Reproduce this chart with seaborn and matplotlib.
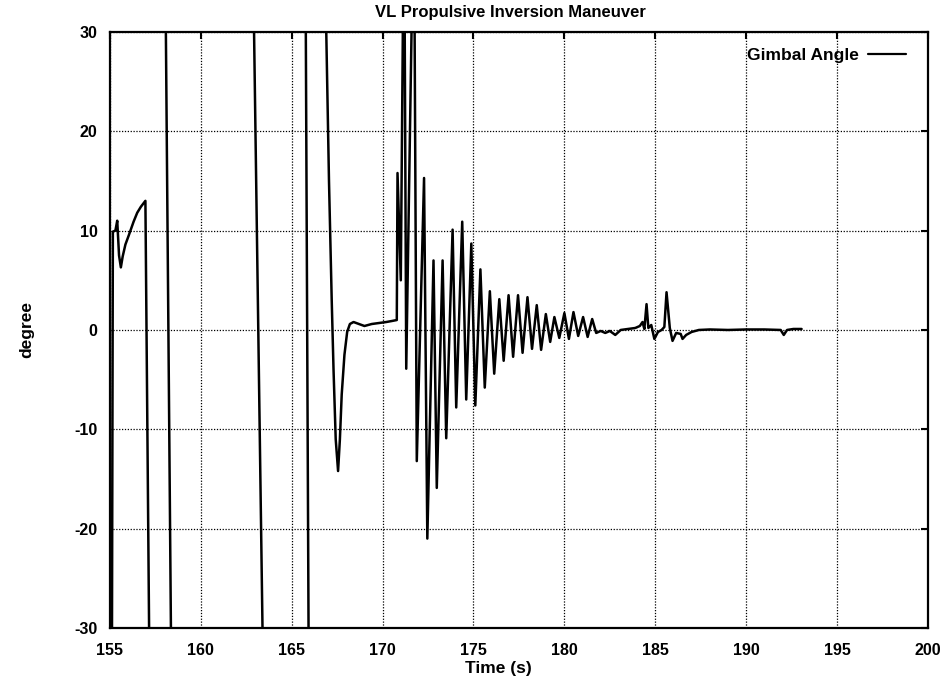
import pandas as pd
import seaborn as sns
import matplotlib.pyplot as plt
from matplotlib.lines import Line2D

# valeurs (temps en s, angle en degres)
t_start = [155.10, 155.16, 155.30, 155.40, 155.50, 155.60, 155.70, 155.85, 156.05, 156.30,
           156.50, 156.70, 156.95, 157.20]
deg_start = [-40, 9.9, 10.0, 11.0, 7.5, 6.3, 7.4, 8.6, 9.6, 10.9, 11.8, 12.4, 13.0, -40]

# traits hors echelle (passage +/- au dela de l'axe)
t_wrap1 = [158.03, 158.40]
deg_wrap1 = [40, -40]
t_wrap2 = [162.85, 163.47]
deg_wrap2 = [40, -40]
t_wrap3 = [165.75, 165.95]
deg_wrap3 = [40, -40]

t_settle = [166.80, 166.95, 167.05, 167.20, 167.30, 167.42, 167.55, 167.65, 167.75, 167.90,
            168.05, 168.20, 168.40, 168.70, 169.00, 169.40, 169.80, 170.20, 170.50, 170.78]
deg_settle = [40, 25, 15, 3, -4, -11, -14.2, -11, -6.5, -2.5,
              -0.2, 0.6, 0.8, 0.6, 0.4, 0.6, 0.7, 0.8, 0.9, 1.0]

t_osc = [170.82, 171.00, 171.18, 171.30, 171.72, 171.88, 172.28, 172.46, 172.80, 172.98,
         173.30, 173.50, 173.85, 174.05, 174.38, 174.60, 174.88, 175.10, 175.38, 175.62,
         175.90, 176.14, 176.42, 176.66, 176.93, 177.18, 177.45, 177.70, 177.97, 178.22,
         178.48, 178.72, 178.98, 179.22, 179.45, 179.72, 180.00, 180.25, 180.50, 180.76,
         181.03, 181.28, 181.53, 181.75]
deg_osc = [15.8, 5.0, 45, -3.9, 45, -13.2, 15.3, -21.0, 7.0, -15.9,
           7.0, -10.9, 10.1, -7.8, 10.9, -7.0, 8.7, -7.6, 6.1, -5.8,
           3.9, -4.4, 3.1, -3.1, 3.5, -2.7, 3.5, -2.3, 3.3, -1.9,
           2.5, -2.0, 1.6, -1.2, 1.3, -0.8, 1.7, -0.9, 1.8, -0.6,
           1.3, -0.7, 1.1, -0.3]

t_tail = [182.00, 182.25, 182.50, 182.80, 183.10, 183.50, 183.90, 184.15, 184.30, 184.40,
          184.52, 184.62, 184.78, 184.95, 185.15, 185.35, 185.50, 185.62, 185.80, 185.95,
          186.15, 186.40, 186.50, 186.70, 187.00, 187.40, 188.00, 189.00, 190.00, 191.00,
          191.90, 192.07, 192.25, 192.60, 193.05]
deg_tail = [-0.1, -0.3, -0.1, -0.5, 0.0, 0.1, 0.2, 0.4, 0.8, 0.1,
            2.6, 0.2, 0.5, -0.9, -0.2, 0.0, 0.3, 3.8, 0.2, -1.1,
            -0.3, -0.4, -0.9, -0.5, -0.2, 0.0, 0.05, 0.0, 0.05, 0.05,
            0.0, -0.5, 0.0, 0.1, 0.1]

x_ticks = [155, 160, 165, 170, 175, 180, 185, 190, 195, 200]
y_ticks = [-30, -20, -10, 0, 10, 20, 30]

# une colonne "seg" pour couper la courbe aux passages hors echelle
morceaux = [(t_start, deg_start), (t_wrap1, deg_wrap1), (t_wrap2, deg_wrap2), (t_wrap3, deg_wrap3),
            (t_settle + t_osc + t_tail, deg_settle + deg_osc + deg_tail)]
df = pd.concat([pd.DataFrame({'time': tt, 'deg': dd, 'seg': i})
                for i, (tt, dd) in enumerate(morceaux)], ignore_index=True)

sns.set_style("white")
plt.rcParams['font.family'] = ['Liberation Sans', 'DejaVu Sans']
plt.rcParams['font.weight'] = 'bold'
plt.rcParams['text.color'] = 'black'
plt.rcParams['axes.labelcolor'] = 'black'
plt.rcParams['axes.unicode_minus'] = False

fig = plt.figure(figsize=(9.52, 6.8), dpi=100)
ax = fig.add_axes([0.1155, 0.0765, 0.8592, 0.8765])

sns.lineplot(data=df, x='time', y='deg', units='seg', estimator=None, sort=False,
             color='black', linewidth=1.8, legend=False, ax=ax)

ax.set_xlim(155, 200)
ax.set_ylim(-30, 30)
ax.set_xticks(x_ticks)
ax.set_yticks(y_ticks)
ax.grid(True, color='black', linestyle=(0, (1, 1.3)), linewidth=0.9)
for s in ax.spines.values():
    s.set_color('black')
    s.set_linewidth(1.6)
ax.tick_params(direction='in', length=5, width=1.5, top=True, right=True,
               labelsize=11.5, colors='black')
ax.tick_params(axis='x', pad=11)
ax.tick_params(axis='y', pad=9)

ax.set_xlabel('Time (s)', fontsize=12.5, fontweight='bold')
ax.xaxis.set_label_coords(0.475, -0.055)
ax.set_ylabel('degree', fontsize=12.5, fontweight='bold')
ax.yaxis.set_label_coords(-0.092, 0.5)
fig.text(510 / 952, 1 - 12 / 680, 'VL Propulsive Inversion Maneuver', ha='center', va='center',
         fontsize=12, fontweight='bold')

handle = Line2D([], [], color='black', linewidth=1.6)
ax.legend(handles=[handle], labels=['Gimbal Angle'], loc='upper right', frameon=False,
          markerfirst=False, handlelength=2.2, handletextpad=0.5, fontsize=12.5,
          bbox_to_anchor=(0.992, 1.0))

fig.savefig('out.png', dpi=100)
